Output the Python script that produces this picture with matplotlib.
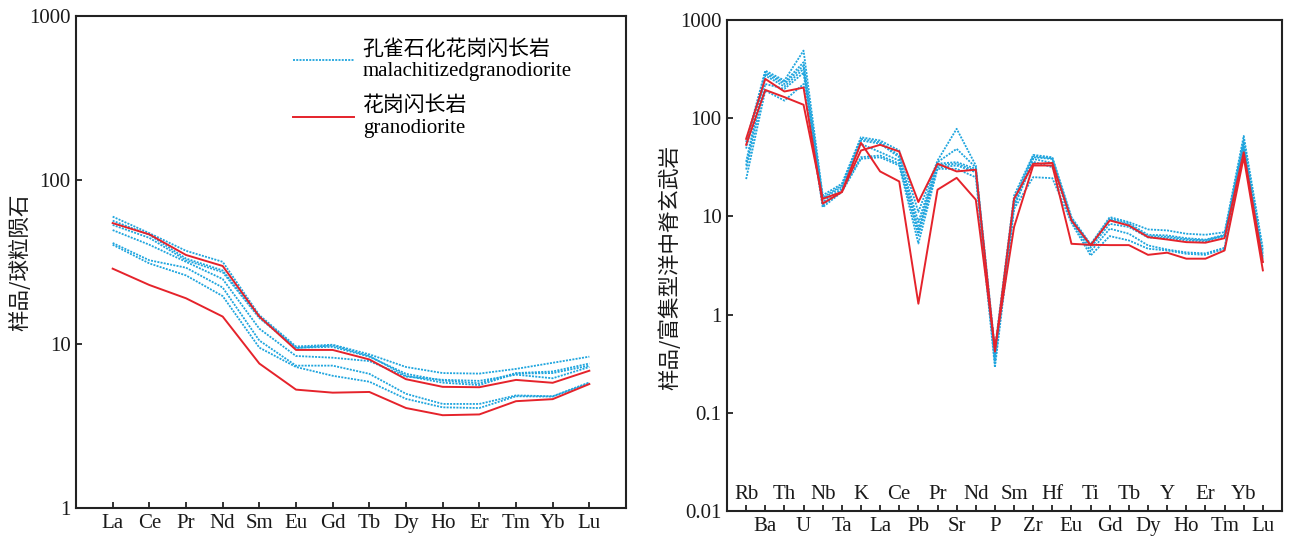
import matplotlib
matplotlib.use("Agg")
import matplotlib.pyplot as plt
from matplotlib.lines import Line2D

# ---------------- data ----------------
ree_elements = ['La', 'Ce', 'Pr', 'Nd', 'Sm', 'Eu', 'Gd', 'Tb', 'Dy', 'Ho', 'Er', 'Tm', 'Yb', 'Lu']

ree_malachitized_1 = [59.8, 47.4, 37.0, 31.7, 15.0, 9.66, 9.9, 8.65, 7.24, 6.65, 6.6, 7.05, 7.68, 8.37]
ree_malachitized_2 = [56.5, 46.3, 33.2, 28.1, 14.7, 9.5, 9.6, 8.37, 6.58, 5.98, 5.76, 6.65, 6.8, 7.6]
ree_malachitized_3 = [53.2, 44.4, 32.4, 27.4, 14.4, 9.45, 9.8, 8.45, 6.4, 5.81, 5.62, 6.6, 6.65, 7.38]
ree_malachitized_4 = [49.5, 40.3, 31.7, 24.9, 12.4, 8.45, 8.25, 7.87, 6.33, 6.05, 5.96, 6.5, 6.18, 7.24]
ree_malachitized_5 = [41.3, 32.4, 29.2, 22.1, 10.5, 7.38, 7.38, 6.58, 4.97, 4.31, 4.31, 4.86, 4.8, 5.83]
ree_malachitized_6 = [40.3, 31.0, 26.2, 19.6, 9.5, 7.24, 6.4, 5.89, 4.63, 4.11, 4.07, 4.8, 4.78, 5.76]

ree_granodiorite_1 = [54.6, 46.6, 34.9, 29.9, 14.7, 9.2, 9.2, 8.05, 6.1, 5.48, 5.45, 6.04, 5.8, 6.87]
ree_granodiorite_2 = [28.8, 22.9, 19.0, 14.7, 7.6, 5.27, 5.05, 5.1, 4.07, 3.68, 3.72, 4.48, 4.61, 5.7]

spider_elements = ['Rb', 'Ba', 'Th', 'U', 'Nb', 'Ta', 'K', 'La', 'Ce', 'Pb', 'Pr', 'Sr', 'Nd', 'P',
                   'Sm', 'Zr', 'Hf', 'Eu', 'Ti', 'Gd', 'Tb', 'Dy', 'Y', 'Ho', 'Er', 'Tm', 'Yb', 'Lu']

spider_malachitized_1 = [57, 305, 242, 488, 16.4, 21.5, 64, 59.3, 46.9, 11.1, 37, 78, 33, 0.45,
                         16.3, 42.3, 40, 9.8, 5.2, 9.84, 8.75, 7.37, 7.2, 6.66, 6.5, 6.9, 66, 4.69]
spider_malachitized_2 = [49, 294, 232, 371, 15.5, 20.7, 61.6, 57, 41.7, 8.75, 35.7, 48.7, 31.5, 0.4,
                         15, 41, 39, 9.6, 5.1, 9.5, 8.5, 6.5, 6.4, 6.0, 5.8, 6.5, 60, 4.3]
spider_malachitized_3 = [36, 283, 223, 343, 15.1, 20.0, 59.3, 55, 40, 7.5, 34.4, 35.7, 30.5, 0.38,
                         14, 40, 38.5, 9.4, 5.0, 9.2, 8.2, 6.3, 6.2, 5.85, 5.7, 6.4, 56, 4.0]
spider_malachitized_4 = [33, 272, 210, 318, 14.0, 19.1, 54.8, 45.1, 37, 6.9, 33, 34.4, 29, 0.35,
                         13, 38.5, 35, 9.2, 4.8, 8.4, 7.8, 6.1, 6.0, 5.7, 5.56, 6.3, 53, 3.8]
spider_malachitized_5 = [30, 223, 199, 290, 13.0, 18.5, 40.1, 41.7, 34.4, 6.4, 31.5, 33, 28.2, 0.32,
                         12.5, 36, 31.7, 9.0, 4.4, 7.5, 6.66, 5.06, 4.6, 4.3, 4.2, 4.8, 50, 3.6]
spider_malachitized_6 = [24, 191, 151, 223, 12.4, 17.7, 38.6, 40, 33, 5.3, 30.5, 30.5, 25, 0.29,
                         11.9, 25.1, 24.5, 8.6, 4.0, 6.3, 5.69, 4.69, 4.5, 4.16, 4.06, 4.69, 47, 3.4]

spider_granodiorite_1 = [61.6, 251, 187, 205, 13.5, 17.7, 56.1, 28.7, 22.7, 1.29, 18.7, 24.7, 14.8, 0.45,
                         7.8, 33, 33, 5.26, 5.14, 5.1, 5.1, 4.06, 4.27, 3.71, 3.71, 4.5, 40, 2.82]
spider_granodiorite_2 = [53.6, 194, 164, 137, 15.1, 17.7, 46.9, 53.6, 45.8, 14.0, 34.4, 28.7, 29.9, 0.42,
                         15.1, 34.3, 35, 9.1, 5.1, 9.1, 8.07, 6.15, 5.82, 5.47, 5.4, 6.0, 45, 3.43]

left_yticks = [1, 10, 100, 1000]
left_yticklabels = ['1', '10', '100', '1000']
right_yticks = [0.01, 0.1, 1, 10, 100, 1000]
right_yticklabels = ['0.01', '0.1', '1', '10', '100', '1000']

legend_labels = ['孔雀石化花岗闪长岩\nmalachitizedgranodiorite', '花岗闪长岩\ngranodiorite']
left_ylabel = '样品/球粒陨石'
right_ylabel = '样品/富集型洋中脊玄武岩'

# ---------------- style ----------------
BLUE = '#1FA5DE'
RED = '#E5232B'
SERIF = 'Liberation Serif'
CJK = 'Noto Sans CJK SC'
TICK_FS = 15
blue_kw = dict(color=BLUE, lw=1.3, ls=(0, (1.1, 0.7)))
red_kw = dict(color=RED, lw=1.4, ls='-')

W, H = 1290, 537
fig = plt.figure(figsize=(W / 100, H / 100), dpi=100)

def frac(x0, y0, x1, y1):
    return [x0 / W, 1 - y1 / H, (x1 - x0) / W, (y1 - y0) / H]

ax1 = fig.add_axes(frac(76, 16, 626, 508))
ax2 = fig.add_axes(frac(727, 20, 1282, 511))

for ax in (ax1, ax2):
    for s in ax.spines.values():
        s.set_linewidth(1.5)
        s.set_color('#222222')
    ax.set_yscale('log')
    ax.minorticks_off()
    ax.tick_params(axis='both', which='major', direction='in', length=4.5, width=1.3,
                   color='#222222', labelsize=TICK_FS, pad=4, labelcolor='#1a1a1a')

# ---------------- left panel ----------------
x_ree = list(range(len(ree_elements)))
for ys in [ree_malachitized_1, ree_malachitized_2, ree_malachitized_3,
           ree_malachitized_4, ree_malachitized_5, ree_malachitized_6]:
    ax1.plot(x_ree, ys, **blue_kw)
for ys in [ree_granodiorite_1, ree_granodiorite_2]:
    ax1.plot(x_ree, ys, **red_kw)

ax1.set_xlim(-1, len(ree_elements))
ax1.set_ylim(1, 1000)
ax1.set_yticks(left_yticks)
ax1.set_yticklabels(left_yticklabels, fontfamily=SERIF)
ax1.set_xticks(x_ree)
ax1.set_xticklabels(ree_elements, fontfamily=SERIF)
ax1.minorticks_off()

handles = [Line2D([], [], **blue_kw), Line2D([], [], **red_kw)]
ax1.legend(handles, legend_labels, loc='upper left', bbox_to_anchor=(0.3945, 0.952),
           frameon=False, prop={'family': [SERIF, CJK], 'size': 15},
           handlelength=2.95, handletextpad=0.4, labelspacing=0.75,
           borderpad=0, borderaxespad=0)

fig.text(20 / W, 1 - 262 / H, left_ylabel, rotation=90, ha='center', va='center',
         fontsize=15.5, family=[CJK, 'DejaVu Sans'], color='#1a1a1a')

# ---------------- right panel ----------------
x_sp = list(range(len(spider_elements)))
for ys in [spider_malachitized_1, spider_malachitized_2, spider_malachitized_3,
           spider_malachitized_4, spider_malachitized_5, spider_malachitized_6]:
    ax2.plot(x_sp, ys, **blue_kw)
for ys in [spider_granodiorite_1, spider_granodiorite_2]:
    ax2.plot(x_sp, ys, **red_kw)

ax2.set_xlim(-1, len(spider_elements))
ax2.set_ylim(0.01, 1000)
ax2.set_yticks(right_yticks)
ax2.set_yticklabels(right_yticklabels, fontfamily=SERIF)
ax2.set_xticks(x_sp)
ax2.set_xticklabels([lab if i % 2 == 1 else '' for i, lab in enumerate(spider_elements)],
                    fontfamily=SERIF)
ax2.minorticks_off()
for i, lab in enumerate(spider_elements):
    if i % 2 == 0:
        ax2.text(i, 0.033, lab, transform=ax2.get_xaxis_transform(), ha='center', va='center',
                 fontsize=TICK_FS, family=SERIF, color='#1a1a1a')

fig.text(670 / W, 1 - 268 / H, right_ylabel, rotation=90, ha='center', va='center',
         fontsize=15.5, family=[CJK, 'DejaVu Sans'], color='#1a1a1a')

fig.savefig('out.png', dpi=100)
